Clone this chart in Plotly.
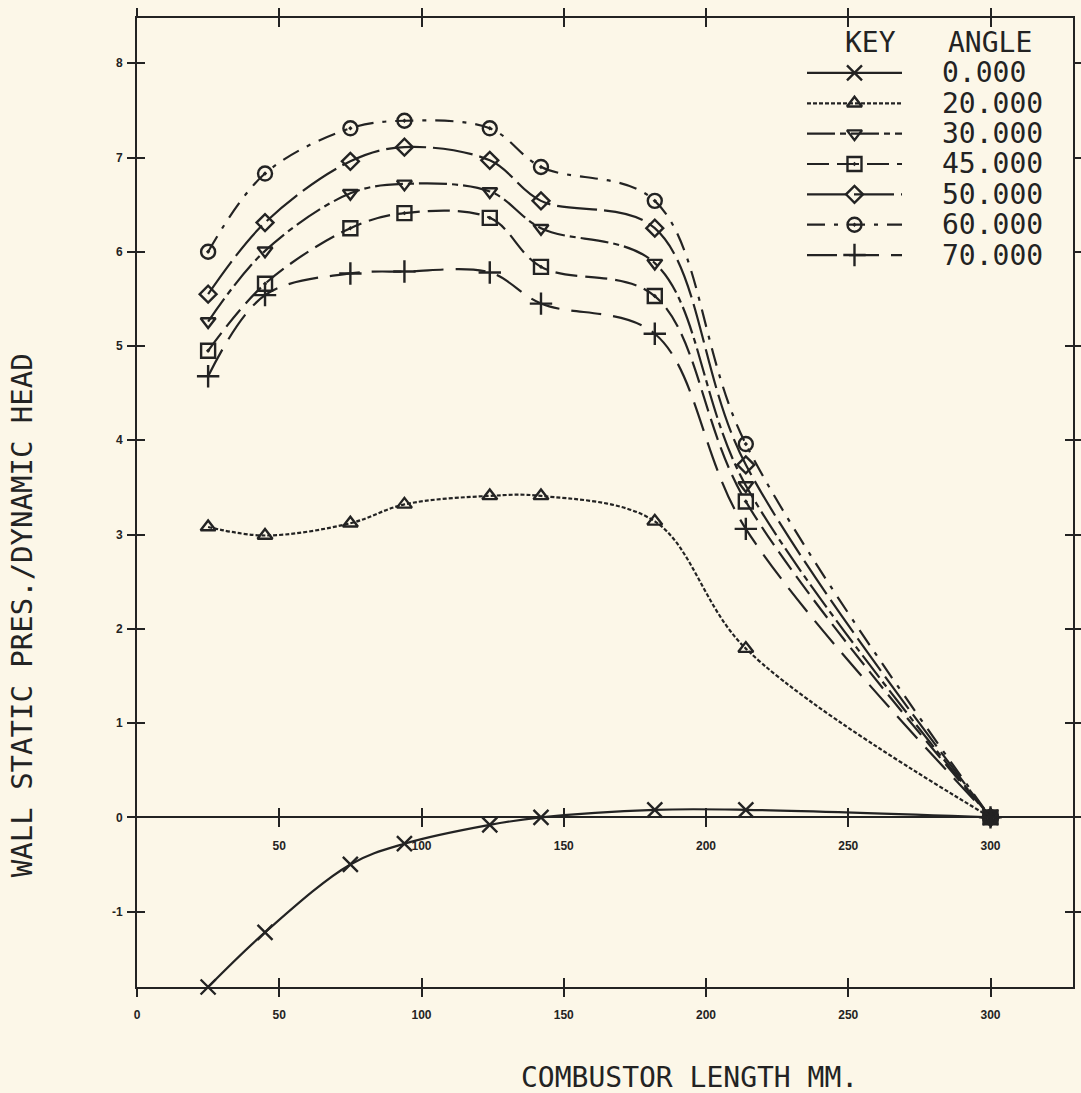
import plotly.graph_objects as go

# Axial stations along the combustor (mm)
x_mm = [25, 45, 75, 94, 124, 142, 182, 214, 300]

# Wall static pressure / dynamic head for each swirl angle
a0 = [-1.80, -1.22, -0.50, -0.28, -0.08, 0.00, 0.08, 0.08, 0.00]
a20 = [3.08, 2.99, 3.12, 3.32, 3.41, 3.41, 3.14, 1.79, 0.00]
a30 = [5.26, 6.01, 6.62, 6.72, 6.64, 6.25, 5.88, 3.52, 0.00]
a45 = [4.95, 5.66, 6.25, 6.41, 6.36, 5.84, 5.53, 3.35, 0.00]
a50 = [5.55, 6.31, 6.96, 7.11, 6.97, 6.54, 6.25, 3.74, 0.00]
a60 = [6.00, 6.83, 7.31, 7.39, 7.31, 6.90, 6.54, 3.96, 0.00]
a70 = [4.68, 5.54, 5.77, 5.79, 5.78, 5.45, 5.13, 3.06, 0.00]

angle_labels = ["0.000", "20.000", "30.000", "45.000", "50.000", "60.000", "70.000"]

x_ticks = [0, 50, 100, 150, 200, 250, 300]
x_ticks_zero = [50, 100, 150, 200, 250, 300]
y_ticks = [-1, 0, 1, 2, 3, 4, 5, 6, 7, 8]

x_range = [0, 329]
y_range = [-1.80, 8.48]

INK = "#232323"
PAPER = "#fcf7e8"
MONO = "DejaVu Sans Mono"

series = [a0, a20, a30, a45, a50, a60, a70]
symbols = ["x-thin-open", "triangle-up-open", "triangle-down-open",
           "square-open-dot", "diamond-open", "circle-open-dot", "cross-thin-open"]
dashes = ["solid", "4px,2px", "28px,5px,6px,5px", "22px,8px",
          "40px,7px", "18px,9px,4px,9px", "30px,12px"]
sizes = [15, 13, 13, 14, 13, 14, 16]

fig = go.Figure()

for vals, sym, dash, sz in zip(series, symbols, dashes, sizes):
    fig.add_trace(go.Scatter(
        x=x_mm, y=vals, mode="lines+markers",
        line=dict(color=INK, width=2.2, dash=dash, shape="spline", smoothing=1.0),
        marker=dict(symbol=sym, size=sz, color=INK, line=dict(color=INK, width=2.4)),
        cliponaxis=False, showlegend=False, hoverinfo="skip",
    ))

# Empty traces so the extra tick axes (inner ticks, zero-line axis) get drawn
for xa, ya in [("x3", "y"), ("x4", "y"), ("x5", "y"), ("x", "y3")]:
    fig.add_trace(go.Scatter(x=[None], y=[None], xaxis=xa, yaxis=ya, mode="markers",
                             showlegend=False, hoverinfo="skip"))

# Key: sample line with its marker on a small helper axis, one row per angle
for row, (sym, dash, sz) in enumerate(zip(symbols, dashes, sizes)):
    fig.add_trace(go.Scatter(
        x=[0, 1], y=[row, row], mode="lines", xaxis="x2", yaxis="y2",
        line=dict(color=INK, width=2.2, dash=dash),
        showlegend=False, hoverinfo="skip",
    ))
    fig.add_trace(go.Scatter(
        x=[0.5], y=[row], mode="markers", xaxis="x2", yaxis="y2",
        marker=dict(symbol=sym, size=sz, color=INK, line=dict(color=INK, width=2.4)),
        showlegend=False, hoverinfo="skip",
    ))

annotations = []
for row, lab in enumerate(angle_labels):
    annotations.append(dict(
        x=1.40, y=row, xref="x2", yref="y2", text=lab, showarrow=False,
        xanchor="left", yanchor="middle", font=dict(family=MONO, size=28, color=INK),
    ))
annotations.append(dict(x=0.67, y=-1, xref="x2", yref="y2", text="KEY", showarrow=False,
                        xanchor="center", yanchor="middle",
                        font=dict(family=MONO, size=28, color=INK)))
annotations.append(dict(x=1.93, y=-1, xref="x2", yref="y2", text="ANGLE", showarrow=False,
                        xanchor="center", yanchor="middle",
                        font=dict(family=MONO, size=28, color=INK)))

# Axis titles
annotations.append(dict(x=-0.1226, y=0.384, xref="paper", yref="paper",
                        text="WALL STATIC PRES./DYNAMIC HEAD", textangle=-90,
                        showarrow=False, xanchor="center", yanchor="middle",
                        font=dict(family=MONO, size=29, color=INK)))
annotations.append(dict(x=0.5908, y=-0.093, xref="paper", yref="paper",
                        text="COMBUSTOR LENGTH MM.", showarrow=False,
                        xanchor="center", yanchor="middle",
                        font=dict(family=MONO, size=28, color=INK)))

tick_font = dict(family="Liberation Sans", size=12, color=INK, weight="bold")
zero_pos = (0 - y_range[0]) / (y_range[1] - y_range[0])

common_x = dict(range=x_range, showgrid=False, zeroline=False, tickwidth=2, tickcolor=INK)
common_y = dict(range=y_range, showgrid=False, zeroline=False, tickwidth=2, tickcolor=INK)

fig.update_layout(
    width=1081, height=1093,
    margin=dict(l=137, r=8, t=18, b=106, autoexpand=False),
    paper_bgcolor=PAPER, plot_bgcolor=PAPER,
    showlegend=False,
    annotations=annotations,
    xaxis=dict(**common_x, domain=[0, 1], anchor="y", showline=True, linecolor=INK, linewidth=2,
               mirror="allticks", ticks="outside", ticklen=8,
               tickvals=x_ticks, ticktext=[str(v) for v in x_ticks],
               tickfont=tick_font, ticklabelstandoff=8),
    xaxis3=dict(**common_x, overlaying="x", anchor="y", showline=False,
                mirror="allticks", ticks="inside", ticklen=9,
                tickvals=x_ticks[1:], showticklabels=False),
    xaxis4=dict(**common_x, overlaying="x", anchor="free", position=zero_pos,
                showline=True, linecolor=INK, linewidth=2, ticks="outside", ticklen=9,
                tickvals=x_ticks_zero, ticktext=[str(v) for v in x_ticks_zero],
                tickfont=tick_font, ticklabelstandoff=8),
    xaxis5=dict(**common_x, overlaying="x", anchor="free", position=zero_pos,
                showline=False, ticks="inside", ticklen=9,
                tickvals=x_ticks_zero, showticklabels=False),
    yaxis=dict(**common_y, domain=[0, 1], anchor="x", showline=True, linecolor=INK, linewidth=2,
               mirror="allticks", ticks="outside", ticklen=8,
               tickvals=y_ticks, ticktext=[str(v) for v in y_ticks],
               tickfont=tick_font, ticklabelstandoff=2),
    yaxis3=dict(**common_y, overlaying="y", anchor="x", showline=False,
                mirror="allticks", ticks="inside", ticklen=8,
                tickvals=y_ticks, showticklabels=False),
    xaxis2=dict(domain=[0.7158, 1.0], range=[0, 2.8], anchor="y2", visible=False),
    yaxis2=dict(domain=[0.7397, 0.9903], range=[6.5, -1.5], anchor="x2", visible=False),
)

fig.write_html("out.html")
